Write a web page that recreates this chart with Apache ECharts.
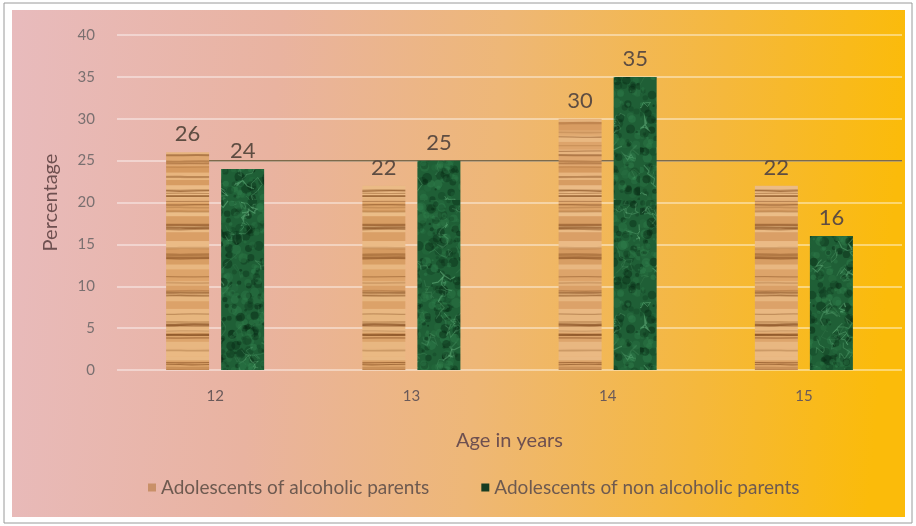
<!DOCTYPE html>
<html>
<head>
<meta charset="utf-8">
<script src="https://cdn.jsdelivr.net/npm/echarts@6/dist/echarts.min.js"></script>
<style>
  html, body { margin: 0; padding: 0; background: #ffffff; }
  #chart { width: 916px; height: 526px; }
</style>
</head>
<body>
<div id="chart"></div>
<script>
// Age groups and prevalence (%) per group
const ages = ['12', '13', '14', '15'];
const alcoholicParents = [26, 22, 30, 22];
const nonAlcoholicParents = [24, 25, 35, 16];
const seriesNames = ['Adolescents of alcoholic parents', 'Adolescents of non alcoholic parents'];
const yTicks = { min: 0, max: 40, interval: 5 };
// Horizontal reference level at 25 %, spanning from the first group to the right edge
const refLevel = 25;
const refSpan = [0.36, 4];

// Small deterministic generator used only for the fill textures
function rng(seed) {
  let s = seed >>> 0;
  return function () {
    s = (s * 1664525 + 1013904223) >>> 0;
    return s / 4294967296;
  };
}

// Light oak wood grain: horizontal streaks on a tan base
function woodTexture() {
  const c = document.createElement('canvas');
  c.width = 60; c.height = 400;
  const g = c.getContext('2d');
  const r = rng(7);
  g.fillStyle = '#e2ab72';
  g.fillRect(0, 0, c.width, c.height);
  // broad tonal bands
  let y = 0;
  while (y < c.height) {
    const h = 3 + r() * 9;
    const t = r();
    g.fillStyle = t < 0.55
      ? 'rgba(244,205,155,' + (0.2 + t * 0.6) + ')'
      : 'rgba(192,122,62,' + ((t - 0.55) * 0.8) + ')';
    g.fillRect(0, y, c.width, h);
    y += h;
  }
  // thin darker grain lines running across the full width
  for (let i = 0; i < 80; i++) {
    const yy = r() * c.height;
    g.strokeStyle = 'rgba(135,80,35,' + (0.2 + r() * 0.55) + ')';
    g.lineWidth = 0.6 + r() * 1.8;
    g.beginPath();
    g.moveTo(0, yy);
    g.bezierCurveTo(20, yy + (r() - 0.5) * 2.5, 40, yy + (r() - 0.5) * 2.5, 60, yy);
    g.stroke();
  }
  return c;
}

// Dark green marble with pale veins
function marbleTexture() {
  const c = document.createElement('canvas');
  c.width = 160; c.height = 200;
  const g = c.getContext('2d');
  const r = rng(19);
  g.fillStyle = '#1f5f36';
  g.fillRect(0, 0, c.width, c.height);
  // mottled patches
  for (let i = 0; i < 900; i++) {
    const x = r() * c.width, yy = r() * c.height, rad = 1 + r() * 4;
    const dark = r() < 0.5;
    g.fillStyle = dark
      ? 'rgba(6,38,18,' + (0.18 + r() * 0.3) + ')'
      : 'rgba(50,130,78,' + (0.15 + r() * 0.3) + ')';
    g.beginPath(); g.arc(x, yy, rad, 0, Math.PI * 2); g.fill();
  }
  // pale veins
  for (let i = 0; i < 110; i++) {
    let x = r() * c.width, yy = r() * c.height;
    g.strokeStyle = 'rgba(130,210,155,' + (0.12 + r() * 0.3) + ')';
    g.lineWidth = 0.4 + r() * 0.9;
    g.beginPath(); g.moveTo(x, yy);
    for (let k = 0; k < 6; k++) {
      x += (r() - 0.5) * 14; yy += (r() - 0.5) * 14;
      g.lineTo(x, yy);
    }
    g.stroke();
  }
  return c;
}

const font = 'Lato, "Open Sans", sans-serif';
const chart = echarts.init(document.getElementById('chart'), null, { renderer: 'canvas' });

chart.setOption({
  backgroundColor: '#ffffff',
  animation: false,
  textStyle: { fontFamily: font },
  graphic: [
    {
      type: 'rect', z: -10, silent: true,
      shape: { x: 4, y: 3, width: 908, height: 520 },
      style: { fill: '#ffffff', stroke: '#9a9a9a', lineWidth: 1 }
    },
    {
      type: 'rect', z: -9, silent: true,
      shape: { x: 12, y: 10, width: 893, height: 507 },
      style: {
        fill: new echarts.graphic.LinearGradient(0, 0, 1, 0.15, [
          { offset: 0, color: '#e8bbbd' },
          { offset: 0.3, color: '#e9b3a0' },
          { offset: 0.55, color: '#eeb777' },
          { offset: 0.8, color: '#f5b83c' },
          { offset: 1, color: '#fbbb0a' }
        ])
      }
    }
  ],
  legend: {
    bottom: 24,
    left: 143,
    itemWidth: 8,
    itemHeight: 8,
    itemGap: 52,
    icon: 'rect',
    textStyle: { color: '#6e5a50', fontSize: 19, fontFamily: font },
    data: [
      { name: seriesNames[0], itemStyle: { color: '#c99068' } },
      { name: seriesNames[1], itemStyle: { color: '#173d22' } }
    ]
  },
  grid: { left: 117, right: 14, top: 35, bottom: 156, containLabel: false },
  xAxis: [
    {
      type: 'category',
      data: ages,
      name: 'Age in years',
      nameLocation: 'middle',
      nameGap: 61,
      nameTextStyle: { color: '#6e5050', fontSize: 20, fontFamily: font },
      axisLine: { show: false },
      axisTick: { show: false },
      axisLabel: { color: '#6a5a5a', fontSize: 15, margin: 19, fontFamily: font }
    },
    {
      type: 'value', min: 0, max: 4, show: false
    }
  ],
  yAxis: {
    type: 'value',
    min: yTicks.min,
    max: yTicks.max,
    interval: yTicks.interval,
    name: 'Percentage',
    nameLocation: 'middle',
    nameGap: 56,
    nameTextStyle: { color: '#6e5050', fontSize: 20, fontFamily: font },
    axisLine: { show: false },
    axisTick: { show: false },
    axisLabel: { color: '#7a7070', fontSize: 15, margin: 22, fontFamily: font },
    splitLine: { lineStyle: { color: 'rgba(255,255,255,0.55)', width: 1.5 } }
  },
  series: [
    {
      name: 'ref',
      type: 'line',
      xAxisIndex: 1,
      data: [[refSpan[0], refLevel], [refSpan[1], refLevel]],
      symbol: 'none',
      z: 1,
      silent: true,
      lineStyle: { color: '#7d6a4a', width: 1.5 }
    },
    {
      name: seriesNames[0],
      type: 'bar',
      data: alcoholicParents,
      barWidth: 43,
      barGap: '28%',
      z: 3,
      itemStyle: { color: { image: woodTexture(), repeat: 'repeat' } },
      label: {
        show: true, position: 'top', distance: 7,
        color: '#5e4d42', fontSize: 22, fontFamily: font
      }
    },
    {
      name: seriesNames[1],
      type: 'bar',
      data: nonAlcoholicParents,
      barWidth: 43,
      z: 3,
      itemStyle: { color: { image: marbleTexture(), repeat: 'repeat' } },
      label: {
        show: true, position: 'top', distance: 7,
        color: '#5e4d42', fontSize: 22, fontFamily: font
      }
    }
  ]
});
</script>
</body>
</html>
